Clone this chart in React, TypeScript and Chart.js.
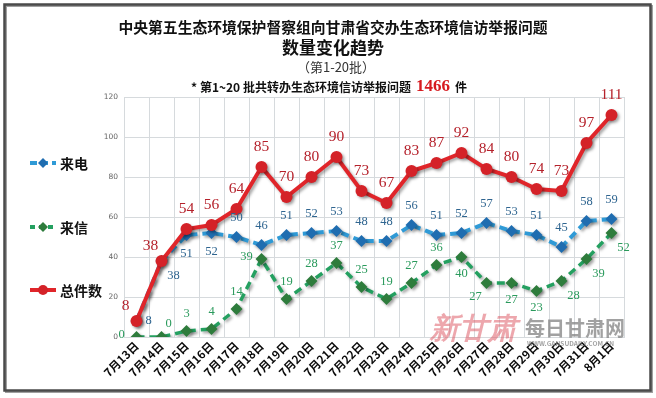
import React, { useEffect, useRef } from 'react';
import { Chart, registerables } from 'chart.js';

Chart.register(...registerables);

const categories = [
  '7月13日', '7月14日', '7月15日', '7月16日', '7月17日', '7月18日', '7月19日',
  '7月20日', '7月21日', '7月22日', '7月23日', '7月24日', '7月25日', '7月26日',
  '7月27日', '7月28日', '7月29日', '7月30日', '7月31日', '8月1日',
];
const phoneValues = [8, 38, 51, 52, 50, 46, 51, 52, 53, 48, 48, 56, 51, 52, 57, 53, 51, 45, 58, 59];
const letterValues = [0, 0, 3, 4, 14, 39, 19, 28, 37, 25, 19, 27, 36, 40, 27, 27, 23, 28, 39, 52];
const totalValues = [8, 38, 54, 56, 64, 85, 70, 80, 90, 73, 67, 83, 87, 92, 84, 80, 74, 73, 97, 111];

// where each value label sits relative to its point
const totalLabelSide = ['tl', 'tl', 't', 't', 't', 't', 't', 't', 't', 't', 't', 't', 't', 't', 't', 't', 't', 't', 't', 't'];
const phoneLabelSide = ['r', 'br', 'b', 'b', 't', 't', 't', 't', 't', 't', 't', 't', 't', 't', 't', 't', 't', 't', 't', 't'];
const letterLabelSide = ['l', 'tr', 't', 't', 't', 'l', 't', 't', 't', 't', 't', 't', 't', 'b', 'bl', 'b', 'b', 'br', 'br', 'br'];

const seriesNames = ['来电', '来信', '总件数'];
const yMin = 0;
const yMax = 120;
const yStep = 20;

const titleLine1 = '中央第五生态环境保护督察组向甘肃省交办生态环境信访举报问题';
const titleLine2 = '数量变化趋势';
const titleLine3 = '（第1-20批）';
const noteText = '* 第1~20 批共转办生态环境信访举报问题';
const noteTotal = '1466';
const noteUnit = '件';

const CJK = "'Noto Sans CJK SC', 'Noto Sans', sans-serif";
const SERIF = "'Liberation Serif', 'DejaVu Serif', serif";

const RED = '#e0252a';
const RED_PT = '#d42228';
const RED_LBL = '#b5212b';
const BLUE = '#2f9ad6';
const BLUE_PT = '#1f6db0';
const BLUE_LBL = '#2f6590';
const GREEN = '#24a060';
const GREEN_PT = '#2e7c3c';
const GREEN_LBL = '#2a9a5c';

function sideOffset(side: string, d: number): [number, number] {
  switch (side) {
    case 't': return [0, -d];
    case 'b': return [0, d];
    case 'l': return [-15, -2];
    case 'r': return [12, 0];
    case 'tl': return [-11, -15];
    case 'tr': return [7, -13];
    case 'bl': return [-11, 14];
    case 'br': return [12, 15];
    default: return [0, -d];
  }
}

const framePlugin = {
  id: 'framePlugin',
  beforeDraw(chart: any) {
    const ctx = chart.ctx;
    ctx.save();
    ctx.fillStyle = '#ffffff';
    ctx.fillRect(0, 0, chart.width, chart.height);
    ctx.strokeStyle = '#a0a0a0';
    ctx.lineWidth = 2;
    ctx.strokeRect(6, 6, 646, 386);
    ctx.strokeStyle = '#4a4a4a';
    ctx.lineWidth = 2.5;
    ctx.strokeRect(4.5, 4.5, 646, 386);
    ctx.restore();
  },
  beforeDatasetsDraw(chart: any) {
    const ctx = chart.ctx;
    ctx.save();
    ctx.textBaseline = 'middle';
    ctx.textAlign = 'left';
    ctx.fillStyle = 'rgba(222, 95, 105, 0.55)';
    ctx.font = `italic bold 29px ${SERIF}`;
    ctx.fillText('新甘肃', 430, 331);
    ctx.fillStyle = 'rgba(130, 130, 130, 0.75)';
    ctx.font = `bold 20px ${CJK}`;
    ctx.fillText('每日甘肃网', 525, 328);
    ctx.font = `bold 6.5px ${CJK}`;
    ctx.fillText('WWW.GANSUDAILY.COM.CN', 527, 344);
    ctx.restore();
  },
  beforeDatasetDraw(chart: any) {
    const ctx = chart.ctx;
    ctx.save();
    ctx.shadowColor = 'rgba(0,0,0,0.35)';
    ctx.shadowBlur = 3;
    ctx.shadowOffsetX = 2;
    ctx.shadowOffsetY = 2;
  },
  afterDatasetDraw(chart: any) {
    chart.ctx.restore();
  },
  afterDatasetsDraw(chart: any) {
    const ctx = chart.ctx;
    const specs = [
      { idx: 0, sides: totalLabelSide, d: 20, color: RED_LBL, font: `15.5px ${SERIF}` },
      { idx: 1, sides: phoneLabelSide, d: 19, color: BLUE_LBL, font: `12.5px ${SERIF}` },
      { idx: 2, sides: letterLabelSide, d: 17, color: GREEN_LBL, font: `12.5px ${SERIF}` },
    ];
    ctx.save();
    ctx.textAlign = 'center';
    ctx.textBaseline = 'middle';
    specs.forEach((s) => {
      const meta = chart.getDatasetMeta(s.idx);
      const data = chart.data.datasets[s.idx].data;
      ctx.font = s.font;
      ctx.fillStyle = s.color;
      meta.data.forEach((pt: any, i: number) => {
        const [dx, dy] = sideOffset(s.sides[i], s.d);
        ctx.fillText(String(data[i]), pt.x + dx, pt.y + dy);
      });
    });
    ctx.restore();
  },
  afterDraw(chart: any) {
    const ctx = chart.ctx;
    ctx.save();
    ctx.textBaseline = 'middle';
    ctx.textAlign = 'center';
    ctx.fillStyle = '#111';
    ctx.font = `bold 14.8px ${CJK}`;
    ctx.fillText(titleLine1, 333, 27);
    ctx.font = `bold 17px ${CJK}`;
    ctx.fillText(titleLine2, 333, 48);
    ctx.fillStyle = '#333';
    ctx.font = `13px ${CJK}`;
    ctx.fillText(titleLine3, 336, 67);

    // note line
    ctx.textAlign = 'left';
    const f1 = `bold 12px ${CJK}`;
    const f2 = `bold 17px ${SERIF}`;
    ctx.font = f1;
    const w1 = ctx.measureText(noteText).width;
    const w3 = ctx.measureText(noteUnit).width;
    ctx.font = f2;
    const w2 = ctx.measureText(noteTotal).width;
    const total = w1 + 5 + w2 + 5 + w3;
    let x = 329 - total / 2;
    ctx.font = f1;
    ctx.fillStyle = '#111';
    ctx.fillText(noteText, x, 87);
    x += w1 + 5;
    ctx.font = f2;
    ctx.fillStyle = '#d61a1f';
    ctx.fillText(noteTotal, x, 87);
    x += w2 + 5;
    ctx.font = f1;
    ctx.fillStyle = '#111';
    ctx.fillText(noteUnit, x, 87);

    // legend
    const items = [
      { name: seriesNames[0], y: 163, color: BLUE, pt: BLUE_PT, dash: [7, 4], style: 'diamond' },
      { name: seriesNames[1], y: 227, color: GREEN, pt: GREEN_PT, dash: [5, 4], style: 'diamond' },
      { name: seriesNames[2], y: 290, color: RED, pt: RED_PT, dash: [], style: 'circle' },
    ];
    items.forEach((it) => {
      ctx.save();
      ctx.strokeStyle = it.color;
      ctx.lineWidth = 4;
      ctx.setLineDash(it.dash);
      ctx.beginPath();
      ctx.moveTo(30, it.y);
      ctx.lineTo(56, it.y);
      ctx.stroke();
      ctx.setLineDash([]);
      ctx.fillStyle = it.pt;
      ctx.beginPath();
      if (it.style === 'diamond') {
        ctx.moveTo(43, it.y - 5);
        ctx.lineTo(48, it.y);
        ctx.lineTo(43, it.y + 5);
        ctx.lineTo(38, it.y);
        ctx.closePath();
      } else {
        ctx.arc(43, it.y, 5, 0, Math.PI * 2);
      }
      ctx.fill();
      ctx.restore();
      ctx.fillStyle = '#111';
      ctx.font = `bold 14px ${CJK}`;
      ctx.fillText(it.name, 60, it.y + 1);
    });
    ctx.restore();
  },
};

export default function App() {
  const canvasRef = useRef<HTMLCanvasElement | null>(null);

  useEffect(() => {
    if (!canvasRef.current) return;
    const chart = new Chart(canvasRef.current, {
      type: 'line',
      data: {
        labels: categories,
        datasets: [
          {
            label: seriesNames[2],
            data: totalValues,
            borderColor: RED,
            backgroundColor: RED_PT,
            borderWidth: 4,
            pointStyle: 'circle',
            pointRadius: 6,
            pointBackgroundColor: RED_PT,
            pointBorderColor: RED_PT,
            pointBorderWidth: 0,
            tension: 0,
            fill: false,
          },
          {
            label: seriesNames[0],
            data: phoneValues,
            borderColor: BLUE,
            backgroundColor: BLUE_PT,
            borderWidth: 4,
            borderDash: [8, 5],
            pointStyle: 'rectRot',
            pointRadius: 6,
            pointBackgroundColor: BLUE_PT,
            pointBorderColor: BLUE_PT,
            pointBorderWidth: 0,
            tension: 0,
            fill: false,
          },
          {
            label: seriesNames[1],
            data: letterValues,
            borderColor: GREEN,
            backgroundColor: GREEN_PT,
            borderWidth: 3.5,
            borderDash: [8, 5],
            pointStyle: 'rectRot',
            pointRadius: 6,
            pointBackgroundColor: GREEN_PT,
            pointBorderColor: GREEN_PT,
            pointBorderWidth: 0,
            tension: 0,
            fill: false,
          },
        ],
      },
      options: {
        animation: false,
        responsive: false,
        maintainAspectRatio: false,
        devicePixelRatio: 1,
        layout: { padding: { left: 94, right: 32, top: 97, bottom: 6 } },
        plugins: {
          legend: { display: false },
          title: { display: false },
          tooltip: { enabled: false },
        },
        scales: {
          x: {
            type: 'category',
            offset: true,
            grid: { offset: true, color: '#d6dadd', lineWidth: 1, drawTicks: false },
            border: { color: '#d6dadd' },
            ticks: {
              autoSkip: false,
              maxRotation: 45,
              minRotation: 45,
              padding: 2,
              color: '#0a0a0a',
              font: { family: CJK, size: 11.5, weight: 'bold' },
            },
            afterFit: (s: any) => { s.height = 55; },
          },
          y: {
            min: yMin,
            max: yMax,
            grid: { color: '#d6dadd', lineWidth: 1, drawTicks: false },
            border: { color: '#d6dadd' },
            ticks: {
              stepSize: yStep,
              padding: 6,
              color: '#666',
              font: { family: "'DejaVu Sans', sans-serif", size: 7.5 },
            },
            afterFit: (s: any) => { s.width = 30; },
          },
        },
      },
      plugins: [framePlugin],
    } as any);
    return () => chart.destroy();
  }, []);

  return (
    <div style={{ position: 'absolute', left: 0, top: 0, width: 656, height: 398, background: '#fff' }}>
      <canvas ref={canvasRef} width={656} height={398} style={{ display: 'block', width: 656, height: 398 }} />
    </div>
  );
}
